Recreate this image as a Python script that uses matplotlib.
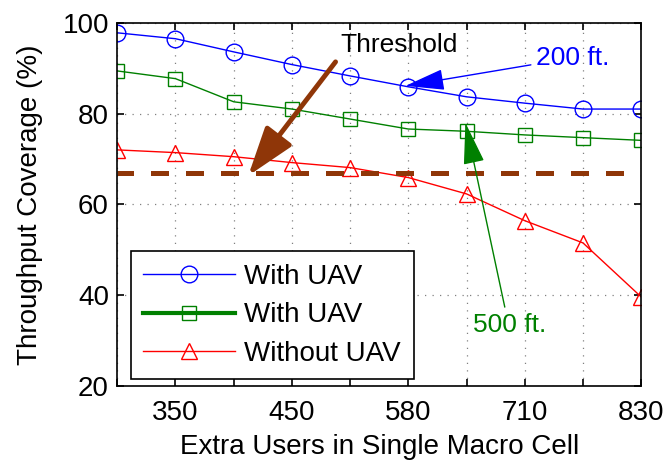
import matplotlib.pyplot as plt

x_labels = ["", "350", "", "450", "", "580", "", "710", "", "830"]
with_uav_200 = [97.8, 96.5, 93.6, 90.8, 88.3, 85.9, 83.7, 82.3, 81.0, 81.0]
with_uav_500 = [89.4, 87.7, 82.6, 81.0, 78.8, 76.6, 76.1, 75.3, 74.7, 74.1]
without_uav = [72.0, 71.4, 70.5, 69.2, 68.1, 65.9, 62.3, 56.4, 51.5, 39.6]
threshold = 67.0


def main() -> None:
    plt.rcParams["font.family"] = ["Liberation Sans", "DejaVu Sans"]
    plt.rcParams["font.size"] = 20

    fig = plt.figure(figsize=(6.7, 4.66), dpi=100)
    ax = fig.add_axes([0.175, 0.172, 0.782, 0.779])
    xs = list(range(len(x_labels)))

    ax.plot(xs, with_uav_200, color="blue", lw=1, marker="o", ms=12,
            mfc="none", mec="blue", label="With UAV")
    ax.plot(xs, with_uav_500, color="green", lw=1, marker="s", ms=10,
            mfc="none", mec="green", label="With UAV")
    ax.plot(xs, without_uav, color="red", lw=1, marker="^", ms=12,
            mfc="none", mec="red", label="Without UAV")
    ax.axhline(threshold, color="#8f3608", lw=3.6, ls=(0.3, (3.6, 3.4)))

    ax.set_xlim(0, 9)
    ax.set_ylim(20, 100)
    ax.set_xticks(xs)
    ax.set_xticklabels(x_labels)
    ax.set_yticks([20, 40, 60, 80, 100])
    ax.tick_params(direction="in", top=True, right=True, length=5, width=1.2,
                   pad=6)
    ax.tick_params(axis="x", pad=10)
    ax.grid(True, ls=(0, (1, 5)), color="gray", lw=0.9)
    for s in ax.spines.values():
        s.set_linewidth(1.2)

    ax.set_xlabel("Extra Users in Single Macro Cell", labelpad=6)
    ax.set_ylabel("Throughput Coverage (%)", labelpad=14)

    # annotations
    ax.annotate("", xy=(2.25, 66.3), xytext=(3.75, 91.4),
                arrowprops=dict(arrowstyle="-|>,head_width=0.5,head_length=1.5",
                                color="#8f3608", lw=3.5, shrinkA=0, shrinkB=0))
    ax.text(3.83, 95.2, "Threshold", fontsize=19, ha="left", va="center")
    ax.annotate("200 ft.", xy=(4.95, 86.1), xytext=(7.2, 92.3),
                color="blue", fontsize=19, va="center",
                arrowprops=dict(arrowstyle="-|>,head_width=0.35,head_length=1.3",
                                color="blue", lw=1, shrinkB=0))
    ax.annotate("500 ft.", xy=(5.98, 78.0), xytext=(6.74, 33.5),
                color="green", fontsize=19, va="center", ha="center",
                arrowprops=dict(arrowstyle="-|>,head_width=0.35,head_length=1.4",
                                color="green", lw=1, shrinkB=0,
                                relpos=(0.45, 1.0)))

    leg = ax.legend(loc="lower left", bbox_to_anchor=(0.02, 0.01),
                    fancybox=False, edgecolor="black", framealpha=1,
                    handlelength=3.3, borderpad=0.45, labelspacing=0.45,
                    handletextpad=0.35, borderaxespad=0.1)
    leg.get_frame().set_linewidth(1.2)
    leg.get_lines()[1].set_linewidth(3)

    fig.savefig("out.png", dpi=100)


if __name__ == "__main__":
    main()
